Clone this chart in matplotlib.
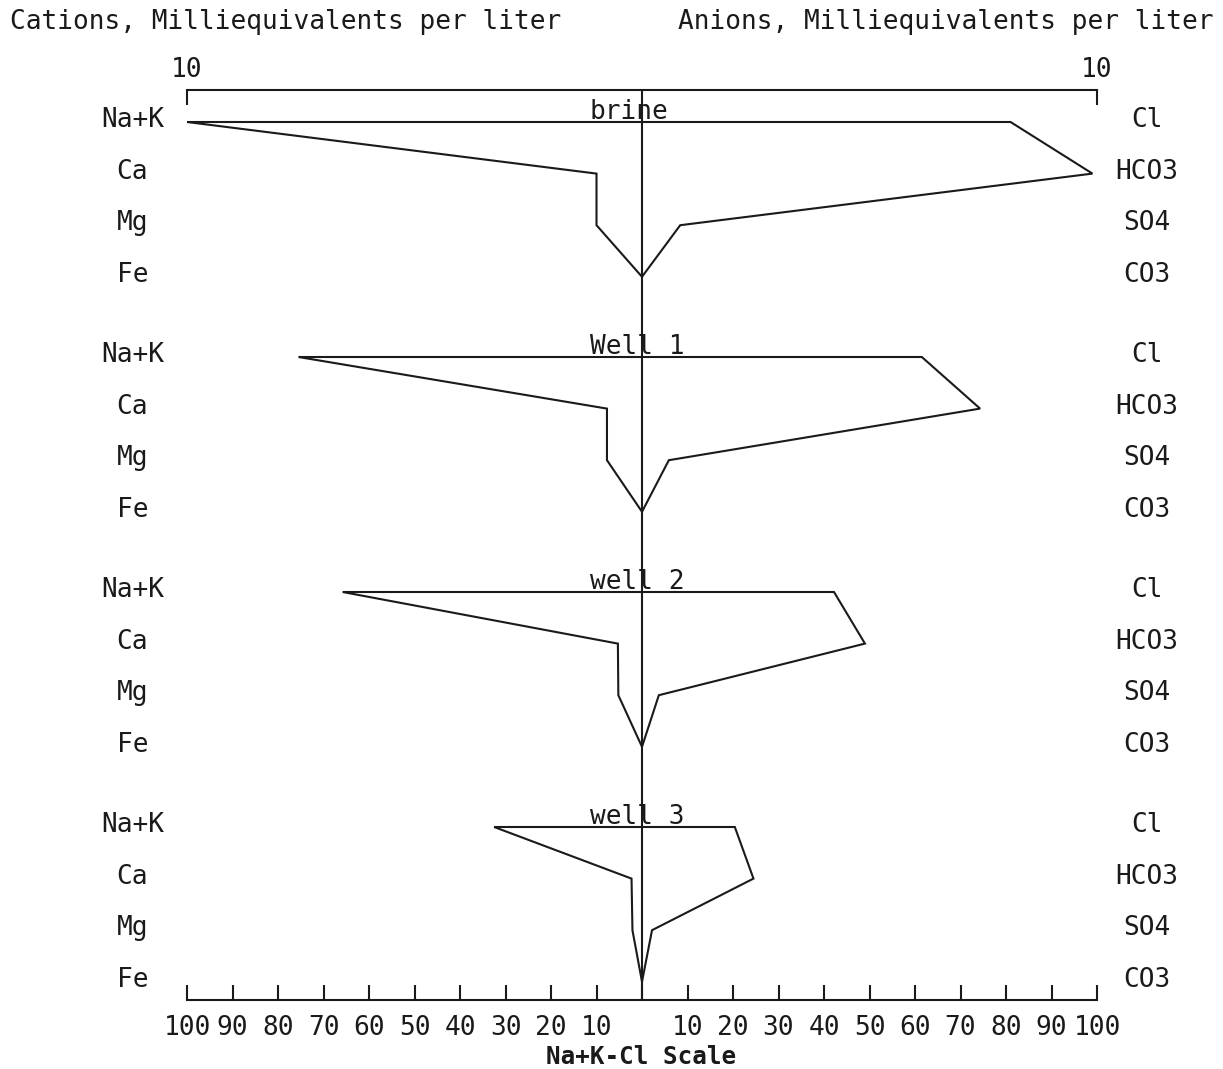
import matplotlib.pyplot as plt

# Stiff diagram: values as percent of the 10 meq/L full scale
samples = ["brine", "Well 1", "well 2", "well 3"]
cation_names = ["Na+K", "Ca", "Mg", "Fe"]
anion_names = ["Cl", "HCO3", "SO4", "CO3"]

brine_cations = [100, 10, 10, 0]
brine_anions = [81, 99, 8.4, 0]
well1_cations = [75.5, 7.7, 7.7, 0]
well1_anions = [61.5, 74.3, 5.9, 0]
well2_cations = [65.8, 5.3, 5.2, 0]
well2_anions = [42.2, 49, 3.7, 0]
well3_cations = [32.5, 2.3, 2.1, 0]
well3_anions = [20.4, 24.5, 2.2, 0]

cations = [brine_cations, well1_cations, well2_cations, well3_cations]
anions = [brine_anions, well1_anions, well2_anions, well3_anions]

scale_ticks = list(range(-100, 101, 10))
scale_labels = [str(abs(t)) if t != 0 else "" for t in scale_ticks]

W, H = 1223, 1069
MONO = "DejaVu Sans Mono"
FS = 18.8
INK = "#1a1a1a"

ROW = 51.6          # px per ion row
STEP = 235 / ROW    # rows between samples


def main():
    fig = plt.figure(figsize=(W / 100, H / 100), dpi=100)
    ax = fig.add_axes([187 / W, 1 - 1000 / H, 910 / W, 910 / H])
    ax.set_xlim(-100, 100)
    ax.set_ylim((1000 - 122) / ROW, (90 - 122) / ROW)

    for s, name in enumerate(samples):
        y0 = s * STEP
        rows = [y0 + j for j in range(4)]
        xs = list(anions[s]) + [-v for v in reversed(cations[s])]
        ys = rows + list(reversed(rows))
        ax.fill(xs, ys, facecolor="none", edgecolor=INK, lw=1.5)
        ax.text(-11.5, y0 - 0.06, name, ha="left", va="baseline",
                family=MONO, fontsize=FS, color=INK)
        for j in range(4):
            ax.text(-112, rows[j] - 0.04, cation_names[j], ha="center",
                    va="center", family=MONO, fontsize=FS, color=INK,
                    clip_on=False)
            ax.text(111, rows[j] - 0.04, anion_names[j], ha="center",
                    va="center", family=MONO, fontsize=FS, color=INK,
                    clip_on=False)

    ax.axvline(0, color=INK, lw=1.5)

    for side in ["left", "right"]:
        ax.spines[side].set_visible(False)
    for side in ["top", "bottom"]:
        ax.spines[side].set_color(INK)
        ax.spines[side].set_linewidth(1.5)
    ax.set_yticks([])
    ax.set_xticks(scale_ticks)
    ax.set_xticklabels(scale_labels, family=MONO, fontsize=FS, color=INK)
    ax.tick_params(axis="x", direction="in", length=11, width=1.5,
                   color=INK, pad=11, top=False)

    top = ax.secondary_xaxis("top")
    top.set_xticks([-100, 100])
    top.set_xticklabels(["10", "10"], family=MONO, fontsize=FS, color=INK)
    top.tick_params(direction="in", length=11, width=1.5, color=INK, pad=5)
    top.spines["top"].set_visible(False)

    fig.text(10 / W, 1 - 22 / H, "Cations, Milliequivalents per liter",
             ha="left", va="center", family=MONO, fontsize=FS, color=INK)
    fig.text(1213 / W, 1 - 22 / H, "Anions, Milliequivalents per liter",
             ha="right", va="center", family=MONO, fontsize=FS, color=INK)
    fig.text(641 / W, 1 - 1057 / H, "Na+K-Cl Scale", ha="center",
             va="center", family=MONO, fontsize=17.5, fontweight="bold",
             color=INK)

    fig.savefig("out.png", dpi=100)


if __name__ == "__main__":
    main()
